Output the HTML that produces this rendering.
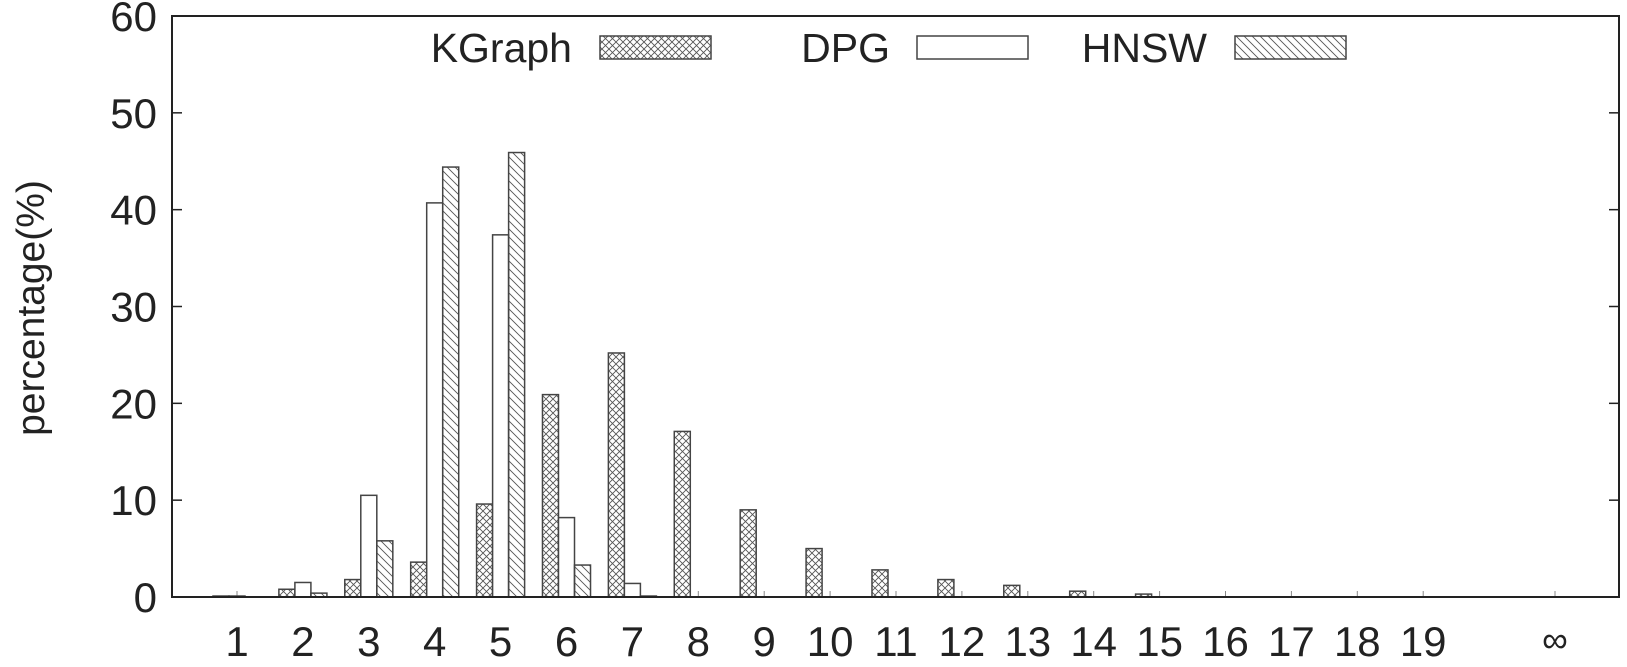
<!DOCTYPE html>
<html><head><meta charset="utf-8"><style>
html,body{margin:0;padding:0;background:#fff;}
svg text{font-family:"Liberation Sans",Arial,sans-serif;fill:#222;}
</style></head><body>
<svg id="chart" width="1627" height="662" viewBox="0 0 1627 662" xmlns="http://www.w3.org/2000/svg">
<defs>
<pattern id="cross" patternUnits="userSpaceOnUse" width="7" height="7">
<path d="M0,0 L7,7 M7,0 L0,7" stroke="#555" stroke-width="0.9"/>
</pattern>
<pattern id="diag" patternUnits="userSpaceOnUse" width="8" height="8">
<path d="M-2,-2 L10,10 M-2,6 L2,10 M6,-2 L10,2" stroke="#555" stroke-width="0.9"/>
</pattern>
</defs>
<g id="plot"></g>
</svg>
<script>
const categories = ["1","2","3","4","5","6","7","8","9","10","11","12","13","14","15","16","17","18","19","∞"];
const catPos = [1,2,3,4,5,6,7,8,9,10,11,12,13,14,15,16,17,18,19,21];
const kgraph = [0.1,0.8,1.8,3.6,9.6,20.9,25.2,17.1,9.0,5.0,2.8,1.8,1.2,0.6,0.3,0,0,0,0,0];
const dpg    = [0.1,1.5,10.5,40.7,37.4,8.2,1.4,0,0,0,0,0,0,0,0,0,0,0,0,0];
const hnsw   = [0,0.4,5.8,44.4,45.9,3.3,0.1,0,0,0,0,0,0,0,0,0,0,0,0,0];
const yTicks = [0,10,20,30,40,50,60];

const L=172,R=1619,T=16,B=597;
const x0=237,dx=65.9;
function xs(v){return x0+(v-1)*dx;}
function ys(v){return B-(v/60)*(B-T);}
const NS="http://www.w3.org/2000/svg";
const g=document.getElementById('plot');
function mk(tag,attrs){const e=document.createElementNS(NS,tag);for(const k in attrs)e.setAttribute(k,attrs[k]);g.appendChild(e);return e;}

yTicks.forEach(t=>{
  const y=ys(t);
  const tl=mk('line',{x1:L,x2:L+10,y1:y,y2:y,stroke:'#222','stroke-width':1.5});
  
  
  const tr=mk('line',{x1:R-10,x2:R,y1:y,y2:y,stroke:'#222','stroke-width':1.5});
  
  
  const tx=mk('text',{x:157,y:y+15,'text-anchor':'end','font-size':42});
  tx.textContent=t;
  
  
});
categories.forEach((c,i)=>{
  const x=xs(catPos[i]);
  const tb=mk('line',{x1:x,x2:x,y1:B,y2:B-6,stroke:'#888','stroke-width':1});
  
  
  const tx=mk('text',{x:x,y:c==="∞"?652:656,'text-anchor':'middle','font-size':c==="∞"?36:42});
  tx.textContent=c;
  
  
});
const bw=0.243*dx;
const series=[[kgraph,'url(#cross)',-1.5,'kgraph'],[dpg,'#fff',-0.5,'dpg'],[hnsw,'url(#diag)',0.5,'hnsw']];
series.forEach(([vals,fill,off,name])=>{
  vals.forEach((v,i)=>{
    if(v<=0)return;
    const x=xs(catPos[i])+off*bw;
    const r=mk('rect',{x:x,y:ys(v),width:bw,height:B-ys(v),fill:fill,stroke:'#444','stroke-width':1.5});
    
    
  });
});
const fr=mk('rect',{x:L,y:T,width:R-L,height:B-T,fill:'none',stroke:'#222','stroke-width':2});


const yt=mk('text',{x:0,y:0,'text-anchor':'middle','font-size':39,transform:'translate(44,308) rotate(-90)'});
yt.textContent='percentage(%)';


const leg=[['KGraph',572,600,'url(#cross)'],['DPG',890,917,'#fff'],['HNSW',1207,1235,'url(#diag)']];
leg.forEach(([lab,tx,bx,fill])=>{
  const t=mk('text',{x:tx,y:62,'text-anchor':'end','font-size':41});
  t.textContent=lab;
  
  
  const r=mk('rect',{x:bx,y:36,width:111,height:23,fill:fill,stroke:'#444','stroke-width':1.5});
  
  
});
</script>
</body></html>
